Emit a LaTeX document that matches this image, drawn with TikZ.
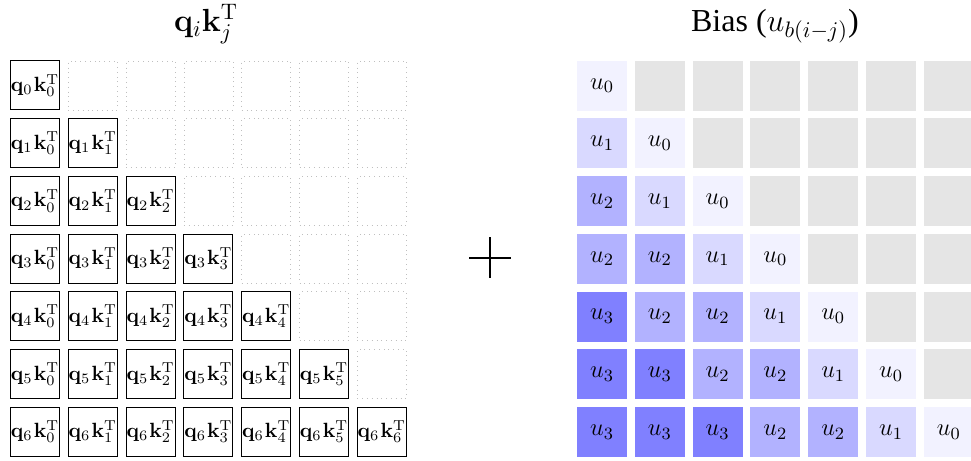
\documentclass[tikz,border=0pt]{standalone}
\usepackage{fix-cm}
\usepackage[no-math]{fontspec}
\setmainfont{Liberation Serif}
\colorlet{ucol0}{blue!5}
\colorlet{ucol1}{blue!15}
\colorlet{ucol2}{blue!30}
\colorlet{ucol3}{blue!50}
\colorlet{maskcol}{black!10}
\begin{document}
\begin{tikzpicture}[x=0.5pt,y=-0.5pt,
  qkcell/.style={draw=black, line width=0.45pt, minimum width=24.5pt, minimum height=24.5pt, inner sep=0pt, font=\fontsize{10.3}{12}\selectfont},
  emptycell/.style={draw=black!25, dash pattern=on 0.4pt off 2pt, line width=0.4pt, minimum width=24.5pt, minimum height=24.5pt, inner sep=0pt},
  biascell/.style={minimum width=25pt, minimum height=25pt, inner sep=0pt, font=\fontsize{12.3}{14}\selectfont},
  titletext/.style={anchor=base, font=\fontsize{16}{19}\selectfont},
  plusline/.style={line width=1pt}]
\useasboundingbox (0,0) rectangle (971,461);
% titles
\node[titletext] (tqk) at (206,31.5) {$\mathbf{q}_i\mathbf{k}_j^{\mathrm{T}}$};
\node[titletext] (tbias) at (775,31.5) {Bias ($u_{b(i-j)}$)};
% left grid
\foreach \i in {0,...,6}{
  \foreach \j in {0,...,6}{
    \ifnum\j>\i
      \node[emptycell] (L-\i-\j) at ({35+57.8*\j},{85.4+57.7*\i}) {};
    \else
      \node[qkcell] (L-\i-\j) at ({35+57.8*\j},{85.4+57.7*\i}) {$\mathbf{q}_{\i}\mskip1mu\mathbf{k}_{\j}^{\mathrm{T}}$};
    \fi
  }
}
% right grid
\foreach \i in {0,...,6}{
  \foreach \j in {0,...,6}{
    \pgfmathtruncatemacro\d{\i-\j}
    \ifnum\d<0
      \node[biascell, fill=maskcol] (R-\i-\j) at ({602+57.8*\j},{85.7+57.7*\i}) {};
    \else
      \pgfmathtruncatemacro\u{\d<2 ? \d : (\d<4 ? 2 : 3)}
      \node[biascell, fill=ucol\u] (R-\i-\j) at ({602+57.8*\j},{85.7+57.7*\i}) {$u_{\u}$};
    \fi
  }
}
% plus sign
\coordinate (pl) at (469,257.5);
\coordinate (pr) at (511,257.5);
\coordinate (pt) at (490,237);
\coordinate (pb) at (490,278);
\draw[plusline] (pl) -- (pr);
\draw[plusline] (pt) -- (pb);
\end{tikzpicture}
\end{document}
